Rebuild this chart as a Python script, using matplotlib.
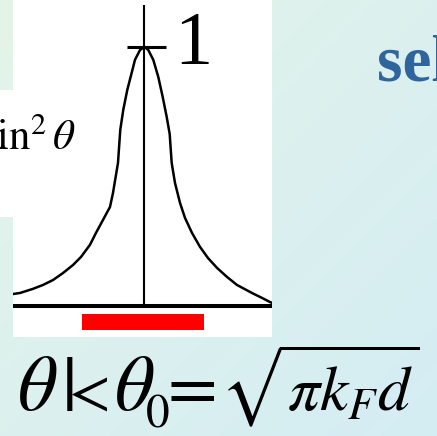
import matplotlib
matplotlib.use("Agg")
import matplotlib.pyplot as plt
import numpy as np

plt.rcParams['mathtext.fontset'] = 'stix'

# transmission curve, angle in arbitrary units, intensity normalised to the peak
theta = [-1.315, -1.245, -1.115, -1.015, -0.915, -0.815, -0.715, -0.635, -0.545,
         -0.485, -0.415, -0.345, -0.315, -0.265, -0.242, -0.212, -0.172, -0.128,
         -0.095, -0.045, 0.0,
         0.038, 0.088, 0.138, 0.182, 0.222, 0.252, 0.272, 0.305, 0.355, 0.405,
         0.475, 0.555, 0.635, 0.725, 0.825, 0.925, 1.075, 1.175, 1.255, 1.275]
intensity = [0.046, 0.050, 0.066, 0.081, 0.100, 0.127, 0.158, 0.189, 0.236,
             0.282, 0.332, 0.382, 0.436, 0.552, 0.680, 0.757, 0.834, 0.900,
             0.950, 0.988, 1.0,
             0.988, 0.950, 0.884, 0.807, 0.730, 0.664, 0.552, 0.475, 0.398, 0.340,
             0.282, 0.228, 0.185, 0.147, 0.112, 0.081, 0.050, 0.031, 0.015, 0.012]

# accepted angular range |theta| < theta0
theta0_range = [-0.625, 0.595]
peak_label = "1"
peak_value = 1.0

W, H = 437, 436
fig = plt.figure(figsize=(W / 100, H / 100), dpi=100)

# slide background
bg = fig.add_axes([0, 0, 1, 1])
gx, gy = np.meshgrid(np.linspace(0, 1, 200), np.linspace(0, 1, 200))
t = (gx + (1 - gy)) / 2
c1 = np.array([228, 244, 232]) / 255.0
c2 = np.array([212, 237, 244]) / 255.0
img = c1[None, None, :] * (1 - t[..., None]) + c2[None, None, :] * t[..., None]
img = img[::-1]
bg.imshow(img, extent=[0, 1, 0, 1], aspect='auto', origin='upper')
bg.axis('off')

# white box behind the y label
fig.patches.append(plt.Rectangle((0, 0.502), 0.195, 0.292, transform=fig.transFigure,
                                 facecolor='white', edgecolor='none', zorder=1))

ax = fig.add_axes([0.0297, 0.227, 0.5927, 0.773])
ax.set_facecolor('white')
ax.set_xlim(-1.315, 1.275)
ax.set_ylim(-0.120, 1.181)
for s in ax.spines.values():
    s.set_visible(False)
ax.set_xticks([])
ax.set_yticks([])

ax.plot(theta, intensity, color='black', lw=1.8)
ax.axhline(0, color='black', lw=2.9)
ax.vlines(0, 0, 1.162, color='black', lw=1.5)
ax.hlines(peak_value, -0.175, 0.215, color='black', lw=2.2)
ax.text(0.295, 0.934, peak_label, fontsize=55, family='Liberation Serif',
        ha='left', va='baseline')
ax.broken_barh([(theta0_range[0], theta0_range[1] - theta0_range[0])], (-0.093, 0.062),
               facecolors='#ff0000', edgecolor='none')

fig.text(0.174, 0.656, r'$\sin^2\theta$', fontsize=31, ha='right', va='baseline', zorder=5)
fig.text(0.863, 0.8165, 'sel', fontsize=47, family='Liberation Serif', weight='bold',
         color='#30649c', ha='left', va='baseline')

# condition on the angle, set glyph by glyph: (text, centre x, baseline y, size, style)
pieces = [('θ', 37, 410, 56, 'italic'), ('|', 70, 410, 56, 'normal'),
          ('<', 90, 410, 44, 'normal'), ('θ', 134, 410, 56, 'italic'),
          ('0', 158, 427, 34, 'normal'), ('=', 192, 410, 52, 'normal')]
for s, px, py, size, style in pieces:
    fig.text(px / W, 1 - py / H, s, fontsize=size, family='STIXGeneral',
             style=style, ha='center', va='baseline')
fig.text(220 / W, 1 - 410 / H, r'$\sqrt{\pi k_F d}$', fontsize=46,
         ha='left', va='baseline')

fig.savefig('out.png', dpi=100)
